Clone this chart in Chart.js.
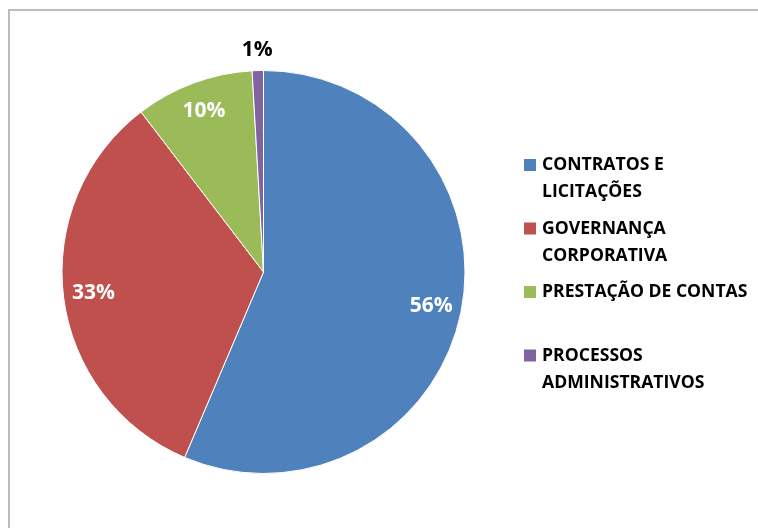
<!DOCTYPE html>
<html>
<head>
<meta charset="utf-8">
<script src="https://cdn.jsdelivr.net/npm/chart.js@4/dist/chart.umd.min.js"></script>
<style>
  html, body { margin: 0; padding: 0; background: #fff; overflow: hidden; }
  #wrap { position: relative; width: 758px; height: 528px; }
  #frame { position: absolute; left: 8px; top: 9px; width: 820px; height: 600px; border: 2px solid #bcbcbc; box-sizing: border-box; }
  canvas { position: absolute; left: 0; top: 0; }
</style>
</head>
<body>
<div id="wrap">
  <div id="frame"></div>
  <canvas id="pizza" width="758" height="528"></canvas>
</div>
<script>
// ====== dados ======
const categorias = [
  ['CONTRATOS E', 'LICITAÇÕES'],
  ['GOVERNANÇA', 'CORPORATIVA'],
  ['PRESTAÇÃO DE CONTAS'],
  ['PROCESSOS', 'ADMINISTRATIVOS']
];
const valores = [56.4, 33.2, 9.5, 0.9];
const rotulos = ['56%', '33%', '10%', '1%'];
const cores = ['#4F81BD', '#C0504D', '#9BBB59', '#8064A2'];

const fonte = '"Open Sans", "DejaVu Sans", sans-serif';

// rótulos de porcentagem sobre as fatias
const rotulosPlugin = {
  id: 'rotulos',
  afterDatasetsDraw(chart) {
    const ctx = chart.ctx;
    const meta = chart.getDatasetMeta(0);
    ctx.save();
    ctx.font = 'bold 21px ' + fonte;
    ctx.textAlign = 'center';
    ctx.textBaseline = 'middle';
    meta.data.forEach(function(arc, i) {
      const p = arc.getProps(['x', 'y', 'startAngle', 'endAngle', 'outerRadius']);
      const meio = (p.startAngle + p.endAngle) / 2;
      const pequeno = valores[i] < 3;
      const r = p.outerRadius * (pequeno ? 1.1 : 0.85);
      ctx.fillStyle = pequeno ? '#000' : '#fff';
      ctx.fillText(rotulos[i], p.x + Math.cos(meio) * r, p.y + Math.sin(meio) * r);
    });
    ctx.restore();
  }
};

// legenda à direita
const legendaPlugin = {
  id: 'legenda',
  afterDraw(chart) {
    const ctx = chart.ctx;
    ctx.save();
    ctx.font = 'bold 17.6px ' + fonte;
    ctx.textBaseline = 'middle';
    categorias.forEach(function(linhas, i) {
      const y0 = 165 + i * 63.5;
      ctx.fillStyle = cores[i];
      ctx.fillRect(524, y0 - 6, 12, 12);
      ctx.fillStyle = '#000';
      linhas.forEach(function(txt, j) {
        ctx.fillText(txt, 542, y0 + j * 27);
      });
    });
    ctx.restore();
  }
};

new Chart(document.getElementById('pizza').getContext('2d'), {
  type: 'pie',
  data: {
    labels: categorias.map(function(c) { return c.join(' '); }),
    datasets: [{
      data: valores,
      backgroundColor: cores,
      borderColor: '#fff',
      borderWidth: 1
    }]
  },
  options: {
    responsive: false,
    animation: false,
    layout: { padding: { left: 61, right: 292, top: 70, bottom: 54 } },
    plugins: {
      legend: { display: false },
      tooltip: { enabled: false }
    }
  },
  plugins: [rotulosPlugin, legendaPlugin]
});
</script>
</body>
</html>
